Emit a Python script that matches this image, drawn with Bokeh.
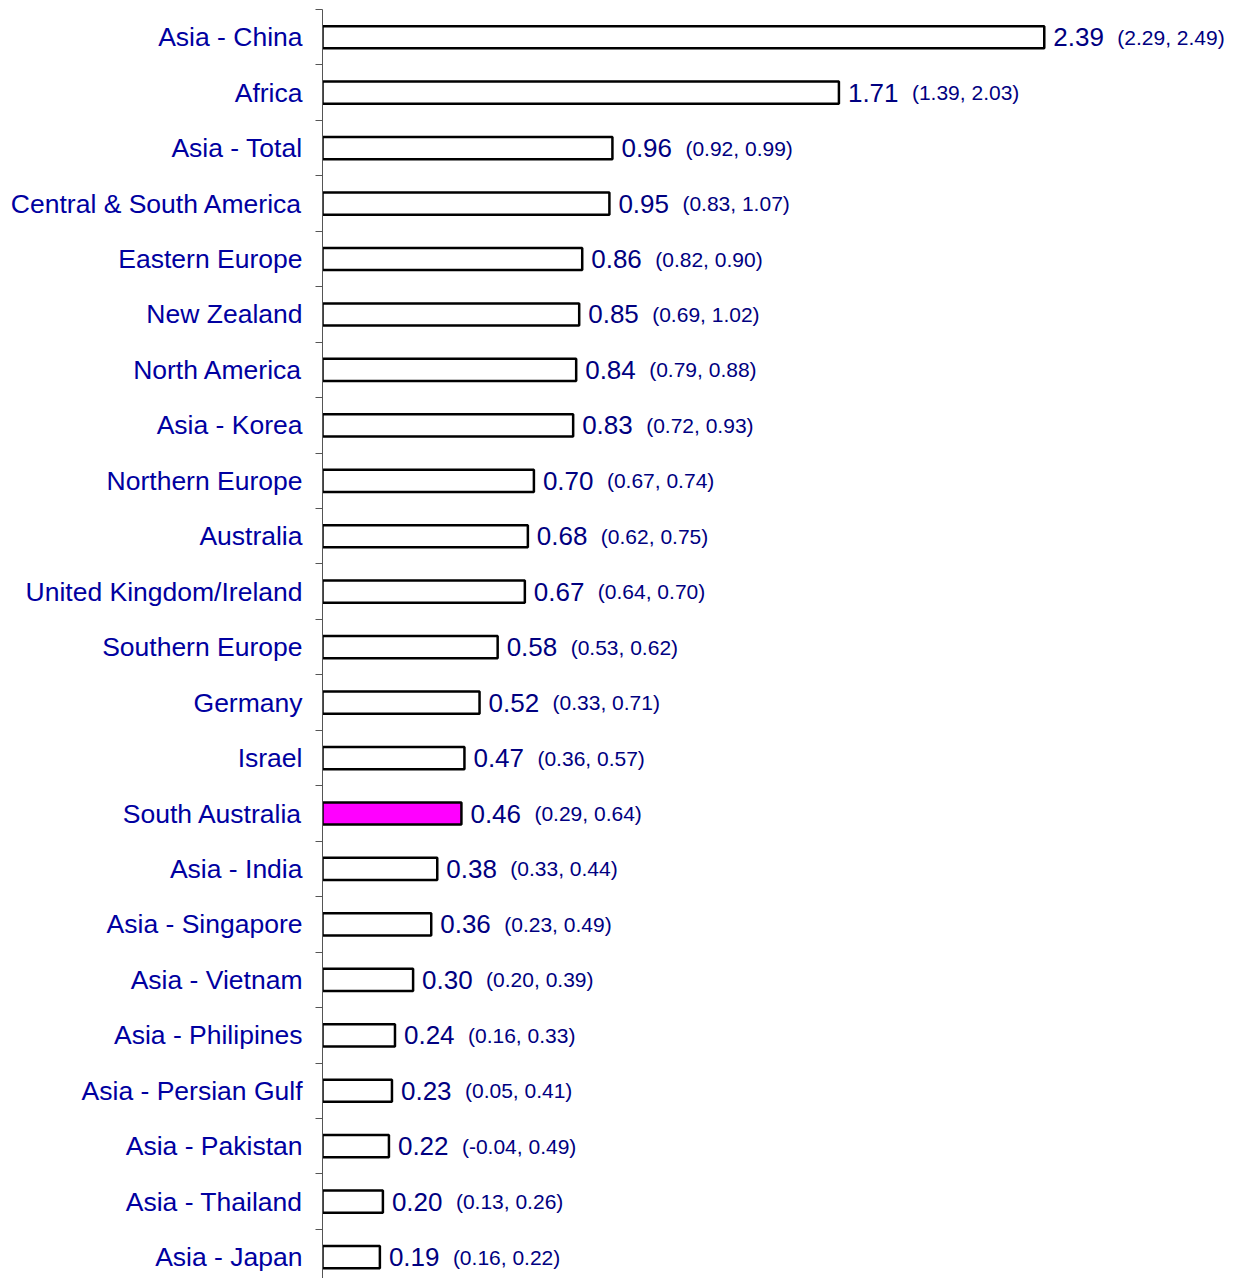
from bokeh.plotting import figure
from bokeh.models import Range1d, FixedTicker, ColumnDataSource
from bokeh.embed import file_html
from bokeh.resources import INLINE
from bokeh.core.properties import value

categories = ["Asia - China", "Africa", "Asia - Total", "Central & South America",
              "Eastern Europe", "New Zealand", "North America", "Asia - Korea",
              "Northern Europe", "Australia", "United Kingdom/Ireland", "Southern Europe",
              "Germany", "Israel", "South Australia", "Asia - India", "Asia - Singapore",
              "Asia - Vietnam", "Asia - Philipines", "Asia - Persian Gulf",
              "Asia - Pakistan", "Asia - Thailand", "Asia - Japan"]
estimates = [2.39, 1.71, 0.96, 0.95, 0.86, 0.85, 0.84, 0.83, 0.70, 0.68, 0.67, 0.58,
             0.52, 0.47, 0.46, 0.38, 0.36, 0.30, 0.24, 0.23, 0.22, 0.20, 0.19]
lower = [2.29, 1.39, 0.92, 0.83, 0.82, 0.69, 0.79, 0.72, 0.67, 0.62, 0.64, 0.53,
         0.33, 0.36, 0.29, 0.33, 0.23, 0.20, 0.16, 0.05, -0.04, 0.13, 0.16]
upper = [2.49, 2.03, 0.99, 1.07, 0.90, 1.02, 0.88, 0.93, 0.74, 0.75, 0.70, 0.62,
         0.71, 0.57, 0.64, 0.44, 0.49, 0.39, 0.33, 0.41, 0.49, 0.26, 0.22]
highlight = "South Australia"

n = len(categories)
pos = list(range(n))
src = ColumnDataSource(dict(
    y=pos,
    est=estimates,
    fill=["#FF00FF" if c == highlight else "#FFFFFF" for c in categories],
    vlab=["%.2f" % v for v in estimates],
    ilab=["(%.2f, %.2f)" % (a, b) for a, b in zip(lower, upper)],
))

p = figure(width=1228, height=1278, output_backend="svg", toolbar_location=None,
           x_range=Range1d(0, 3.0), y_range=Range1d(22.386, -0.5),
           min_border_left=322, min_border_right=0, min_border_top=9, min_border_bottom=0)
p.outline_line_color = None
p.grid.visible = False
p.xaxis.visible = False

p.hbar(y="y", left=0, right="est", height=0.4, fill_color="fill",
       line_color="black", line_width=2.5, source=src)

p.text(x="est", y="y", text="vlab", x_offset=9, text_baseline="middle",
       text_font=value("Liberation Sans"), text_font_size="26px",
       text_color="#000080", source=src)
p.text(x="est", y="y", text="ilab", x_offset=73, text_baseline="middle",
       text_font=value("Liberation Sans"), text_font_size="21px",
       text_color="#000080", source=src)

ax = p.yaxis[0]
ax.ticker = FixedTicker(ticks=pos, minor_ticks=[i - 0.5 for i in range(n + 1)])
ax.major_label_overrides = {i: c for i, c in enumerate(categories)}
ax.major_tick_out = 0
ax.major_tick_in = 0
ax.minor_tick_out = 7
ax.minor_tick_in = 0
ax.minor_tick_line_color = "#555555"
ax.axis_line_color = "#555555"
ax.axis_line_width = 1
ax.major_label_standoff = 13
ax.major_label_text_font = "Liberation Sans"
ax.major_label_text_font_size = "26.5px"
ax.major_label_text_color = "#0000A0"

open("out.html", "w").write(file_html(p, INLINE))
